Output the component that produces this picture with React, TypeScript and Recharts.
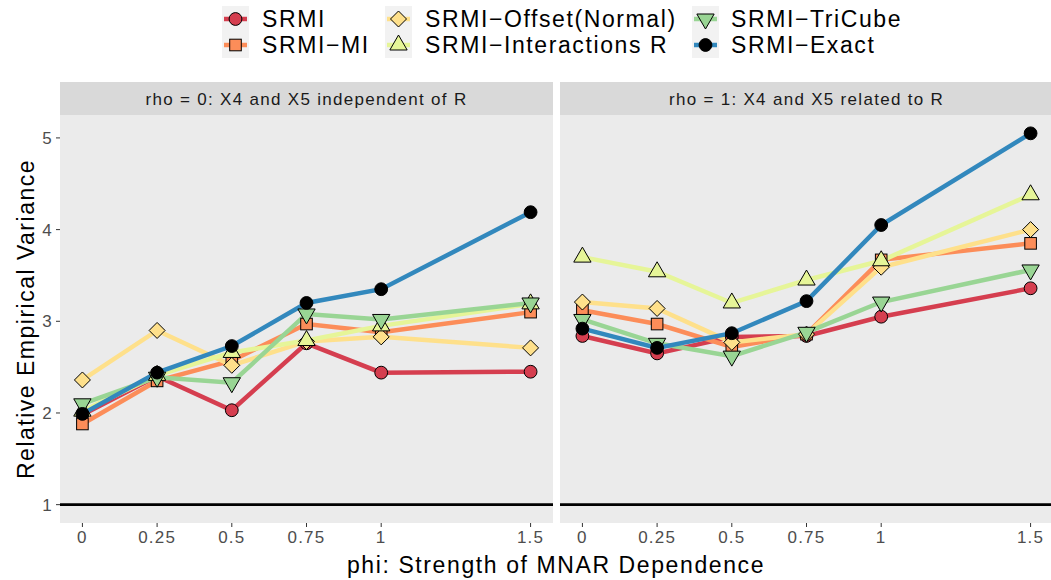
import React from 'react'
import { LineChart, Line, XAxis, YAxis, CartesianGrid, ReferenceLine } from 'recharts'

// phi values (x) shared by both panels
const PHI = [0, 0.25, 0.5, 0.75, 1, 1.5]
const Y_TICKS = [1, 2, 3, 4, 5]

// rho = 0 panel
const SRMI_R0 = [1.98, 2.4, 2.03, 2.76, 2.44, 2.45]
const MI_R0 = [1.88, 2.35, 2.57, 2.97, 2.88, 3.1]
const OFFSET_R0 = [2.36, 2.9, 2.52, 2.78, 2.83, 2.71]
const INTER_R0 = [2.02, 2.41, 2.66, 2.79, 2.95, 3.19]
const TRI_R0 = [2.1, 2.39, 2.33, 3.08, 3.02, 3.2]
const EXACT_R0 = [1.99, 2.44, 2.73, 3.2, 3.35, 4.19]

// rho = 1 panel
const SRMI_R1 = [2.84, 2.65, 2.83, 2.84, 3.05, 3.36]
const MI_R1 = [3.12, 2.97, 2.72, 2.86, 3.67, 3.85]
const OFFSET_R1 = [3.21, 3.14, 2.77, 2.86, 3.59, 4.0]
const INTER_R1 = [3.7, 3.54, 3.2, 3.45, 3.66, 4.38]
const TRI_R1 = [3.02, 2.76, 2.62, 2.88, 3.21, 3.56]
const EXACT_R1 = [2.92, 2.71, 2.87, 3.22, 4.05, 5.05]

const SERIES = [
  { key: 'srmi', name: 'SRMI', color: '#D53E4F', shape: 'circle', fill: '#D53E4F' },
  { key: 'mi', name: 'SRMI\u2212MI', color: '#FC8D59', shape: 'square', fill: '#FC8D59' },
  { key: 'offset', name: 'SRMI\u2212Offset(Normal)', color: '#FEE08B', shape: 'diamond', fill: '#FEE08B' },
  { key: 'inter', name: 'SRMI\u2212Interactions R', color: '#E6F598', shape: 'up', fill: '#E6F598' },
  { key: 'tri', name: 'SRMI\u2212TriCube', color: '#99D594', shape: 'down', fill: '#99D594' },
  { key: 'exact', name: 'SRMI\u2212Exact', color: '#3288BD', shape: 'circle', fill: '#000000' },
]

const rows = (s: number[], m: number[], o: number[], it: number[], t: number[], e: number[]) =>
  PHI.map((phi, i) => ({ phi, srmi: s[i], mi: m[i], offset: o[i], inter: it[i], tri: t[i], exact: e[i] }))

const DATA_R0 = rows(SRMI_R0, MI_R0, OFFSET_R0, INTER_R0, TRI_R0, EXACT_R0)
const DATA_R1 = rows(SRMI_R1, MI_R1, OFFSET_R1, INTER_R1, TRI_R1, EXACT_R1)

const FONT = '"Liberation Sans", Arial, Helvetica, sans-serif'
const TICK = { fill: '#4D4D4D', fontSize: 17, fontFamily: FONT, letterSpacing: 1.2 }

function Mark({ shape, cx, cy, fill }: { shape: string; cx: number; cy: number; fill: string }) {
  const st = { fill, stroke: '#000', strokeWidth: 1 }
  if (shape === 'circle') return <circle cx={cx} cy={cy} r={6.4} {...st} />
  if (shape === 'square') return <rect x={cx - 5.8} y={cy - 5.8} width={11.6} height={11.6} {...st} />
  if (shape === 'diamond')
    return <polygon points={`${cx},${cy - 8} ${cx + 8},${cy} ${cx},${cy + 8} ${cx - 8},${cy}`} {...st} />
  const r = 10
  const dx = r * 0.866
  if (shape === 'up')
    return <polygon points={`${cx},${cy - r} ${cx + dx},${cy + r / 2} ${cx - dx},${cy + r / 2}`} {...st} />
  return <polygon points={`${cx},${cy + r} ${cx + dx},${cy - r / 2} ${cx - dx},${cy - r / 2}`} {...st} />
}

function Panel({ data, left, width, showY, strip }: any) {
  return (
    <div style={{ position: 'absolute', left, top: 0 }}>
      <div
        style={{
          position: 'absolute', left: showY ? 60 : 0, top: 82, width: showY ? width - 60 : width, height: 33,
          background: '#D9D9D9', color: '#1A1A1A', fontSize: 17, lineHeight: '35px', textAlign: 'center',
          fontFamily: FONT, whiteSpace: 'nowrap', letterSpacing: 1.3,
        }}
      >
        {strip}
      </div>
      <LineChart width={width} height={580} data={data} margin={{ top: 115, right: 0, bottom: 27, left: 0 }}>
        <CartesianGrid horizontal={false} vertical={false} fill="#EBEBEB" stroke="none" />
        <XAxis
          type="number" dataKey="phi" domain={[-0.075, 1.575]} ticks={PHI} interval={0} allowDataOverflow
          axisLine={false} tickSize={4} tickMargin={4} height={30}
          tickLine={{ stroke: '#333333' }} tick={TICK}
        />
        <YAxis
          domain={[0.8, 5.25]} ticks={Y_TICKS} interval={0} allowDataOverflow hide={!showY} width={60}
          axisLine={false} tickSize={4} tickMargin={3}
          tickLine={{ stroke: '#333333' }} tick={TICK}
        />
        <ReferenceLine y={1} stroke="#000" strokeWidth={2.6} />
        {SERIES.map(s => (
          <Line key={s.key} dataKey={s.key} stroke={s.color} strokeWidth={4.5} dot={false}
            activeDot={false} isAnimationActive={false} />
        ))}
        {SERIES.map(s => (
          <Line key={s.key + '-pts'} dataKey={s.key} stroke="none" activeDot={false} isAnimationActive={false}
            dot={(p: any) => <Mark key={s.key + p.index} shape={s.shape} cx={p.cx} cy={p.cy} fill={s.fill} />} />
        ))}
      </LineChart>
    </div>
  )
}

function LegendKey({ s }: { s: any }) {
  return (
    <svg width={27} height={26} style={{ display: 'block' }}>
      <line x1={2} x2={25} y1={13} y2={13} stroke={s.color} strokeWidth={4.5} />
      <Mark shape={s.shape} cx={13.5} cy={13} fill={s.fill} />
    </svg>
  )
}

function TopLegend() {
  const cols = [
    { keyX: 222, textX: 262, items: [SERIES[0], SERIES[1]] },
    { keyX: 385, textX: 425, items: [SERIES[2], SERIES[3]] },
    { keyX: 692, textX: 731, items: [SERIES[4], SERIES[5]] },
  ]
  return (
    <>
      {cols.map((c, ci) => (
        <React.Fragment key={ci}>
          <div style={{ position: 'absolute', left: c.keyX, top: 6, width: 27, height: 52, background: '#F2F2F2' }}>
            {c.items.map(s => <LegendKey key={s.key} s={s} />)}
          </div>
          {c.items.map((s, ri) => (
            <div key={s.key} style={{
              position: 'absolute', left: c.textX, top: 6 + ri * 26, height: 26, lineHeight: '26px',
              fontSize: 23, fontFamily: FONT, color: '#000', whiteSpace: 'nowrap', letterSpacing: 1.6,
            }}>{s.name}</div>
          ))}
        </React.Fragment>
      ))}
    </>
  )
}

export default function App() {
  return (
    <div style={{ position: 'absolute', left: 0, top: 0, width: 1051, height: 580, overflow: 'hidden', background: '#fff', fontFamily: FONT }}>
      <TopLegend />
      <Panel data={DATA_R0} left={0} width={553} showY strip="rho = 0: X4 and X5 independent of R" />
      <Panel data={DATA_R1} left={560} width={493} showY={false} strip="rho = 1: X4 and X5 related to R" />
      <div style={{ position: 'absolute', left: 556, top: 565, transform: 'translate(-50%, -50%)', fontSize: 23, whiteSpace: 'nowrap', color: '#000', letterSpacing: 1.6 }}>
        phi: Strength of MNAR Dependence
      </div>
      <div style={{ position: 'absolute', left: 26, top: 319, transform: 'translate(-50%, -50%) rotate(-90deg)', fontSize: 23, whiteSpace: 'nowrap', color: '#000', letterSpacing: 1.5 }}>
        Relative Empirical Variance
      </div>
    </div>
  )
}
